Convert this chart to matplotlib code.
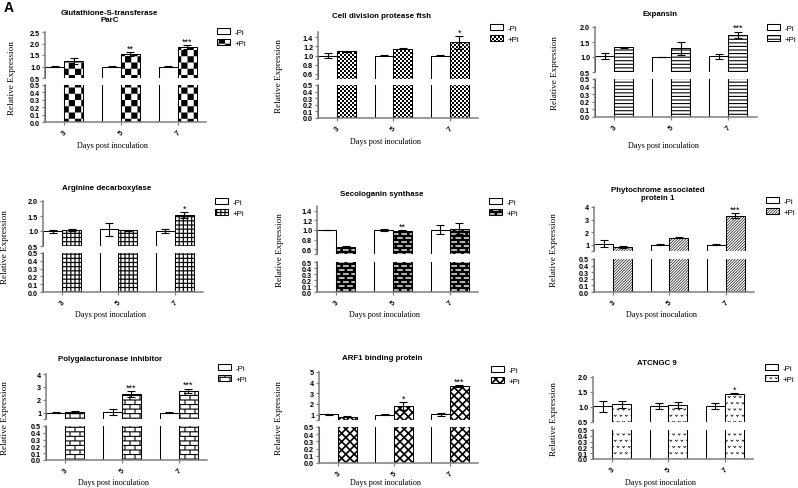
import warnings
import matplotlib
matplotlib.use("Agg")
import matplotlib.pyplot as plt
from matplotlib import hatch as mhatch
from matplotlib.path import Path
from matplotlib.patches import Patch

warnings.filterwarnings("ignore")

# ---------------- data ----------------
days = ["3", "5", "7"]
titles = ["Glutathione-S-transferase\nParC", "Cell division protease ftsh", "Expansin",
          "Arginine decarboxylase", "Secologanin synthase", "Phytochrome associated\nprotein 1",
          "Polygalacturonase inhibitor", "ARF1 binding protein", "ATCNGC 9"]

minus_pi = [[1.0, 1.0, 1.0], [1.0, 1.0, 1.0], [1.02, 1.0, 1.02],
            [1.0, 1.06, 1.0], [1.0, 1.0, 1.01], [1.08, 1.0, 1.0],
            [1.0, 1.05, 1.0], [1.03, 1.0, 1.05], [1.03, 1.02, 1.02]]
minus_err = [[0.01, 0.01, 0.03], [0.05, 0.01, 0.01], [0.1, 0.01, 0.08],
             [0.05, 0.22, 0.08], [0.01, 0.03, 0.09], [0.3, 0.04, 0.06],
             [0.03, 0.2, 0.05], [0.03, 0.02, 0.15], [0.18, 0.1, 0.1]]
plus_pi = [[1.22, 1.54, 1.85], [1.09, 1.15, 1.29], [1.33, 1.29, 1.75],
           [1.03, 1.03, 1.52], [0.65, 0.97, 1.03], [0.82, 1.55, 3.3],
           [1.03, 2.44, 2.7], [0.82, 1.78, 3.7], [1.09, 1.07, 1.45]]
plus_err = [[0.13, 0.08, 0.1], [0.01, 0.01, 0.14], [0.02, 0.22, 0.1],
            [0.04, 0.02, 0.1], [0.01, 0.02, 0.11], [0.05, 0.05, 0.2],
            [0.08, 0.2, 0.17], [0.03, 0.37, 0.12], [0.12, 0.1, 0.02]]
stars = [["", "**", "***"], ["", "", "*"], ["", "", "***"],
         ["", "", "*"], ["", "**", ""], ["", "", "***"],
         ["", "***", "***"], ["", "*", "***"], ["", "", "*"]]

upper_lim = [(0.5, 2.5), (0.5, 1.5), (0.5, 2.0), (0.5, 2.0), (0.5, 1.5),
             (0.5, 4), (0.5, 4), (0.5, 5), (0.5, 2.0)]
upper_ticks = [[0.5, 1.0, 1.5, 2.0, 2.5], [0.6, 0.8, 1.0, 1.2, 1.4], [0.5, 1.0, 1.5, 2.0],
               [0.5, 1.0, 1.5, 2.0], [0.6, 0.8, 1.0, 1.2, 1.4], [1, 2, 3, 4],
               [1, 2, 3, 4], [1, 2, 3, 4, 5], [0.5, 1.0, 1.5, 2.0]]
lower_ticks = [0.0, 0.1, 0.2, 0.3, 0.4, 0.5]

# fill pattern code of the +Pi bars (see PATTERNS below)
hatches = ["c", "k", "h", "g", "b", "d", "w", "q", "v"]

# ---------------- layout (pixels) ----------------
W, H = 798, 489
# left, right, upper-top, upper-bottom, lower-top, lower-bottom
boxes = [(45, 206, 33, 79, 86, 123), (318, 478, 33.4, 79.6, 86, 119), (595, 757, 28, 73, 80, 118),
         (43, 203, 202, 247, 254, 293), (317, 478, 207, 255, 263, 293), (594, 754, 208, 252, 260, 293),
         (46, 207, 375, 420, 427, 461), (319, 478, 373, 421, 428, 464), (593, 753, 378, 423, 431, 460)]
title_y = [17, 17, 14, 189, 194, 194.5, 360, 359, 364]
legend_y = [29, 25, 25, 199, 199, 198, 365, 367, 365]
ylabel_x = [12, 279, 555, 5, 280, 554, 5, 279, 554]
xlabel_y = [146, 142, 146, 315, 315, 315, 483, 483, 483]


# ---------------- custom fill patterns (filled polygons in a 1x1 tile) ----------------
def box(x0, y0, x1, y1):      # counter-clockwise -> filled
    return [(x0, y0), (x1, y0), (x1, y1), (x0, y1), (x0, y0)]


def hole(x0, y0, x1, y1):     # clockwise -> cut out of the filled tile
    return [(x0, y0), (x0, y1), (x1, y1), (x1, y0), (x0, y0)]


FULL = box(-0.1, -0.1, 1.1, 1.1)


def checker(n):
    s = 1.0 / n
    return [box(i * s, j * s, (i + 1) * s, (j + 1) * s)
            for i in range(n) for j in range(n) if (i + j) % 2 == 0]


def hlines(n, t):
    return [box(-0.1, i / n - t / 2, 1.1, i / n + t / 2) for i in range(n + 1)]


def grid(n, t):
    s = 1.0 / n
    return [FULL] + [hole(i * s + t / 2, j * s + t / 2, (i + 1) * s - t / 2, (j + 1) * s - t / 2)
                     for i in range(-1, n + 1) for j in range(-1, n + 1)]


def bricks(nr, nb, t):
    h, b = 1.0 / nr, 1.0 / nb
    out = [FULL]
    for r in range(-1, nr + 1):
        off = 0 if r % 2 == 0 else b / 2
        for k in range(-1, nb + 1):
            out.append(hole(off + k * b + t / 2, r * h + t / 2,
                            off + (k + 1) * b - t / 2, (r + 1) * h - t / 2))
    return out


def diag(n, t):
    out = []
    for i in range(-n - 1, n + 2):
        x = i / n
        out.append([(x - t / 2, 0), (x + t / 2, 0), (x + 1 + t / 2, 1), (x + 1 - t / 2, 1),
                    (x - t / 2, 0)])
    return out


def diamonds(n, t):
    s = 1.0 / n
    out = [FULL]
    for i in range(-n - 2, n + 2):
        for j in range(-2, 2 * n + 2):
            u0, u1 = i * s + t / 2, (i + 1) * s - t / 2
            v0, v1 = j * s + t / 2, (j + 1) * s - t / 2
            pts = [(u0, v0), (u0, v1), (u1, v1), (u1, v0), (u0, v0)]
            out.append([((u + v) / 2, (v - u) / 2) for u, v in pts])
    return out


def chevron(nx, ny, a, c, s):
    out = []
    for j in range(ny):
        for i in range(nx):
            cx = (i + 0.5 * (j % 2) + 0.25) / nx
            cy = (j + 0.5) / ny
            out.append([(cx - a - s, cy + c), (cx, cy - c - s), (cx + a + s, cy + c),
                        (cx + a - s, cy + c), (cx, cy - c + s), (cx - a + s, cy + c),
                        (cx - a - s, cy + c)])
    return out


PATTERNS = {"c": lambda: checker(16), "k": lambda: checker(50),
            "h": lambda: hlines(28, 0.011), "g": lambda: grid(24, 0.012),
            "b": lambda: bricks(25, 12, 0.026), "d": lambda: diag(36, 0.009),
            "w": lambda: bricks(22, 10, 0.011), "q": lambda: diamonds(12, 0.024),
            "v": lambda: chevron(18, 16, 0.012, 0.008, 0.0055)}


class CustomHatch(mhatch.HatchPatternBase):
    def __init__(self, hatch, density):
        self.segs = []
        for key, fn in PATTERNS.items():
            if key in hatch:
                self.segs += fn()
        self.num_vertices = sum(len(s) for s in self.segs)

    def set_vertices_and_codes(self, vertices, codes):
        i = 0
        for s in self.segs:
            n = len(s)
            vertices[i:i + n] = s
            codes[i] = Path.MOVETO
            codes[i + 1:i + n] = Path.LINETO
            i += n


mhatch._hatch_types.append(CustomHatch)

plt.rcParams["font.family"] = ["Liberation Sans", "DejaVu Sans"]
plt.rcParams["hatch.color"] = "black"
plt.rcParams["hatch.linewidth"] = 0.0

fig = plt.figure(figsize=(W / 100, H / 100), dpi=100)
spine_c = "#7f7f7f"
w = 1 / 3
x = [0, 1, 2]

for k in range(9):
    L, R, yt, yub, ylt, yb = boxes[k]
    ax_up = fig.add_axes([L / W, 1 - yub / H, (R - L) / W, (yub - yt) / H])
    ax_lo = fig.add_axes([L / W, 1 - yb / H, (R - L) / W, (yb - ylt) / H])
    for ax in (ax_up, ax_lo):
        ax.bar([i - w / 2 for i in x], minus_pi[k], w, color="white",
               edgecolor="black", linewidth=0.75, zorder=2)
        ax.bar([i + w / 2 for i in x], plus_pi[k], w, color="white",
               edgecolor="black", linewidth=0.75, hatch=hatches[k], zorder=2)
        ax.set_xlim(-0.34, 2.5)
        for s in ("top", "right"):
            ax.spines[s].set_visible(False)
        ax.spines["left"].set_color(spine_c)
        ax.spines["left"].set_linewidth(1.1)
        ax.tick_params(axis="y", which="both", length=2.5, width=0.9, color=spine_c, pad=1)

    # upper part
    ax_up.set_ylim(*upper_lim[k])
    ax_up.spines["bottom"].set_visible(False)
    ax_up.set_xticks([])
    ax_up.set_yticks(upper_ticks[k])
    ax_up.set_yticks([0.5], minor=True)
    if isinstance(upper_ticks[k][0], int):
        ax_up.set_yticklabels([str(t) for t in upper_ticks[k]], fontweight="bold", fontsize=5.2)
    else:
        ax_up.set_yticklabels(["%.1f" % t for t in upper_ticks[k]], fontweight="bold", fontsize=5.2)
    ax_up.errorbar([i - w / 2 for i in x], minus_pi[k], yerr=minus_err[k], fmt="none",
                   ecolor="black", elinewidth=0.8, capsize=3.2, capthick=0.8, zorder=3)
    ax_up.errorbar([i + w / 2 for i in x], plus_pi[k], yerr=plus_err[k], fmt="none",
                   ecolor="black", elinewidth=0.8, capsize=3.2, capthick=0.8, zorder=3)
    for i in x:
        if stars[k][i]:
            ax_up.annotate(stars[k][i], (i + w / 2, plus_pi[k][i] + plus_err[k][i]),
                           xytext=(0, -0.5), textcoords="offset points", ha="center",
                           va="bottom", fontsize=6.5, annotation_clip=False)

    # lower part
    ax_lo.set_ylim(0, 0.5)
    ax_lo.set_yticks(lower_ticks)
    ax_lo.set_yticklabels(["%.1f" % t for t in lower_ticks], fontweight="bold", fontsize=5.2)
    ax_lo.spines["bottom"].set_color(spine_c)
    ax_lo.spines["bottom"].set_linewidth(1.1)
    ax_lo.set_xticks(x)
    ax_lo.set_xticklabels(days, rotation=45, fontsize=5.2, fontweight="bold")
    ax_lo.tick_params(axis="x", length=2.5, width=0.9, color=spine_c, pad=2)

    # texts
    fig.text((L + 0.4 * (R - L)) / W, 1 - title_y[k] / H, titles[k], ha="center",
             va="center", fontsize=5.7, fontweight="bold", linespacing=1.1)
    fig.text(ylabel_x[k] / W, 1 - (yt + yb) / 2 / H, "Relative Expression", rotation=90,
             ha="center", va="center", fontsize=6.6, family="Liberation Serif")
    fig.text((L + 0.42 * (R - L)) / W, 1 - xlabel_y[k] / H, "Days post inoculation",
             ha="center", va="center", fontsize=5.9, family="Liberation Serif")

    h0 = Patch(facecolor="white", edgecolor="black", linewidth=0.75)
    h1 = Patch(facecolor="white", edgecolor="black", linewidth=0.75, hatch=hatches[k])
    ax_up.legend([h0, h1], ["-Pi", "+Pi"], loc="upper left",
                 bbox_to_anchor=((L + 172) / W, 1 - legend_y[k] / H),
                 bbox_transform=fig.transFigure, frameon=False, fontsize=5.7,
                 borderaxespad=0, borderpad=0, handlelength=1.7, handleheight=0.8,
                 handletextpad=0.5, labelspacing=0.4)

fig.text(4 / W, 1 - 8 / H, "A", fontsize=10, fontweight="bold", va="center", ha="left")

fig.savefig("out.png", dpi=100)
